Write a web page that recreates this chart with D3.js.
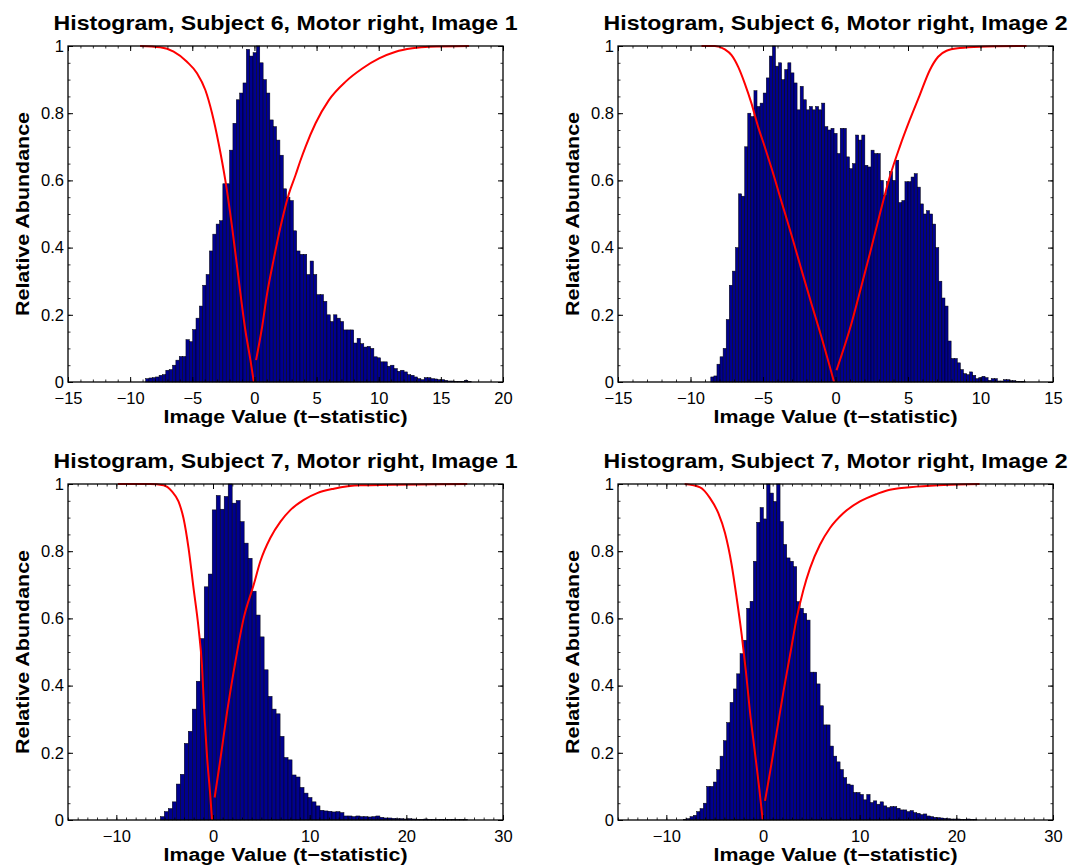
<!DOCTYPE html>
<html>
<head>
<meta charset="utf-8">
<script src="https://cdn.jsdelivr.net/npm/d3@7"></script>
<style>
  body { margin: 0; background: #fff; }
  text { font-family: "Liberation Sans", Arial, Helvetica, sans-serif; }
</style>
</head>
<body>
<svg id="chart" width="1074" height="865"></svg>
<script>
// titles of the four histograms
const titles = [
  "Histogram, Subject 6, Motor right, Image 1",
  "Histogram, Subject 6, Motor right, Image 2",
  "Histogram, Subject 7, Motor right, Image 1",
  "Histogram, Subject 7, Motor right, Image 2"
];
const xLabel = "Image Value (t\u2212statistic)";
const yLabel = "Relative Abundance";

const xDomains = [[-15, 20], [-15, 15], [-15, 30], [-15, 30]];
const xTicks = [
  [-15, -10, -5, 0, 5, 10, 15, 20],
  [-15, -10, -5, 0, 5, 10, 15],
  [-10, 0, 10, 20, 30],
  [-10, 0, 10, 20, 30]
];
const yTicks = [0, 0.2, 0.4, 0.6, 0.8, 1];

// left edge of first bin and bin width (t units)
const binStart = [-8.75, -8.6, -5.45, -8.24];
const binWidth = [0.27, 0.2125, 0.413, 0.345];

// relative abundance per bin
const s6img1 = [0.01,0.012,0.013,0.015,0.02,0.022,0.035,0.037,0.05,0.065,
  0.076,0.076,0.126,0.12,0.156,0.19,0.226,0.288,0.32,0.39,
  0.44,0.47,0.48,0.59,0.59,0.69,0.77,0.84,0.86,0.89,
  0.99,0.97,0.98,1.0,0.95,0.90,0.86,0.78,0.76,0.72,
  0.675,0.575,0.55,0.54,0.45,0.39,0.38,0.38,0.32,0.36,
  0.32,0.26,0.26,0.24,0.20,0.18,0.20,0.19,0.18,0.155,
  0.155,0.155,0.116,0.13,0.114,0.104,0.106,0.10,0.075,0.072,
  0.06,0.06,0.047,0.05,0.04,0.032,0.035,0.03,0.022,0.02,
  0.015,0.01,0.007,0.013,0.013,0.01,0.009,0.007,0.007,0.005,
  0.003,0.003,0.002,0.002,0.002,0.005,0.002];

const s6img2 = [0.015,0.018,0.053,0.075,0.10,0.186,0.288,0.33,0.40,0.56,
  0.553,0.70,0.80,0.79,0.867,0.82,0.83,0.86,0.905,0.97,
  1.0,0.94,0.95,0.90,0.93,0.95,0.92,0.89,0.81,0.88,
  0.84,0.81,0.82,0.81,0.82,0.81,0.83,0.76,0.75,0.755,
  0.74,0.68,0.755,0.755,0.67,0.635,0.65,0.735,0.72,0.735,
  0.645,0.64,0.69,0.68,0.68,0.60,0.556,0.596,0.626,0.60,
  0.66,0.534,0.54,0.596,0.596,0.61,0.62,0.58,0.53,0.50,
  0.51,0.50,0.47,0.40,0.30,0.25,0.226,0.122,0.07,0.07,
  0.057,0.037,0.025,0.022,0.03,0.02,0.01,0.013,0.017,0.013,
  0.005,0.01,0.01,0.003,0.003,0.007,0.007,0.004,0.004,0.002,
  0.002,0.002];

const s7img1 = [0.01,0.025,0.034,0.054,0.107,0.136,0.228,0.264,0.33,0.413,
  0.54,0.694,0.732,0.923,0.966,0.925,0.963,1.0,0.943,0.951,
  0.888,0.824,0.779,0.681,0.61,0.545,0.447,0.368,0.33,0.316,
  0.249,0.186,0.179,0.134,0.128,0.097,0.08,0.067,0.054,0.042,
  0.029,0.027,0.026,0.024,0.025,0.022,0.012,0.012,0.01,0.012,
  0.01,0.01,0.009,0.01,0.012,0.008,0.006,0.006,0.005,0.004,
  0.004,0.003,0.004,0.003,0.002,0.002,0.003,0.002,0.002,0.001,
  0.002,0.001,0.001,0.002,0.001,0.001,0.001];

const s7img2 = [0.002,0.004,0.01,0.014,0.025,0.034,0.05,0.10,0.10,0.113,
  0.15,0.19,0.236,0.29,0.35,0.39,0.435,0.495,0.535,0.63,
  0.651,0.77,0.886,0.93,0.896,1.0,0.973,0.948,1.0,0.888,
  0.82,0.78,0.77,0.754,0.65,0.63,0.615,0.595,0.44,0.44,
  0.405,0.34,0.283,0.283,0.22,0.19,0.173,0.15,0.126,0.107,
  0.104,0.082,0.082,0.076,0.06,0.076,0.052,0.057,0.047,0.054,
  0.042,0.037,0.04,0.04,0.035,0.03,0.03,0.025,0.028,0.022,
  0.02,0.016,0.018,0.012,0.01,0.008,0.007,0.006,0.005,0.004,
  0.003,0.003,0.003,0.002,0.002,0.003,0.002,0.002];

// cumulative curves [t, fraction]
const s6img1Neg = [[-9.2,1.0],[-7.58,0.996],[-6.5,0.983],[-5.43,0.953],[-4.62,0.919],[-3.95,0.869],
  [-3.41,0.80],[-2.88,0.71],[-2.34,0.60],[-1.8,0.462],[-1.26,0.303],[-0.73,0.154],[-0.32,0.065],[-0.05,0.0]];
const s6img1Pos = [[0.13,0.065],[0.6,0.16],[1.02,0.263],[1.55,0.365],[2.1,0.462],[2.77,0.56],[3.31,0.616],
  [3.71,0.66],[4.11,0.70],[4.92,0.77],[5.99,0.839],[7.34,0.894],[8.68,0.933],[10.03,0.963],[11.37,0.983],
  [12.7,0.993],[14.06,0.998],[17.26,1.0]];

const s6img2Neg = [[-9.24,1.0],[-8.32,1.0],[-7.63,0.99],[-7.17,0.973],[-6.71,0.938],[-6.26,0.889],[-5.8,0.83],
  [-5.34,0.76],[-4.88,0.70],[-4.41,0.636],[-3.72,0.536],[-3.03,0.437],[-2.34,0.333],[-1.66,0.233],[-0.97,0.134],[-0.1,0.0]];
const s6img2Pos = [[0.07,0.035],[1.1,0.174],[1.68,0.268],[2.37,0.382],[3.06,0.50],[3.74,0.61],[4.43,0.70],
  [5.12,0.78],[5.81,0.854],[6.5,0.928],[7.08,0.968],[7.66,0.986],[8.57,0.994],[9.95,0.998],[13.17,1.0]];

const s7img1Neg = [[-9.84,1.0],[-6.5,1.0],[-5.12,0.996],[-4.25,0.978],[-3.57,0.948],[-3.05,0.898],[-2.53,0.809],
  [-2.01,0.689],[-1.49,0.57],[-1.14,0.46],[-0.9,0.32],[-0.62,0.19],[-0.28,0.072],[-0.1,0.0]];
const s7img1Pos = [[0.17,0.067],[0.76,0.18],[1.45,0.32],[2.31,0.47],[3.17,0.60],[4.21,0.70],[4.9,0.77],
  [5.94,0.84],[6.98,0.888],[8.02,0.923],[9.39,0.953],[10.78,0.973],[12.5,0.986],[15.27,0.996],[26.3,1.0]];

const s7img2Neg = [[-8.1,1.0],[-6.51,0.99],[-5.48,0.958],[-4.62,0.913],[-3.93,0.854],[-3.24,0.759],[-2.72,0.66],
  [-2.2,0.55],[-1.76,0.44],[-1.34,0.32],[-0.83,0.20],[-0.38,0.092],[-0.03,0.0]];
const s7img2Pos = [[0.21,0.057],[0.72,0.141],[1.41,0.26],[2.1,0.38],[2.79,0.49],[3.48,0.60],[4.17,0.684],
  [4.86,0.749],[5.89,0.819],[6.93,0.869],[8.3,0.913],[10.03,0.948],[11.76,0.97],[13.13,0.983],[18.7,0.997],[22.4,1.0]];

const counts = [s6img1, s6img2, s7img1, s7img2];
const negCurves = [s6img1Neg, s6img2Neg, s7img1Neg, s7img2Neg];
const posCurves = [s6img1Pos, s6img2Pos, s7img1Pos, s7img2Pos];

// layout
const svg = d3.select("#chart");
const W = 435, H = 336;
const origins = [[68, 46], [618, 46], [68, 484], [618, 484]];
const fontFamily = "'Liberation Sans', Arial, Helvetica, sans-serif";

counts.forEach((bins, k) => {
  const [ox, oy] = origins[k];
  const g = svg.append("g").attr("transform", `translate(${ox},${oy})`);

  const x = d3.scaleLinear().domain(xDomains[k]).range([0, W]);
  const y = d3.scaleLinear().domain([0, 1]).range([H, 0]);
  const start = binStart[k], bw = binWidth[k];

  // bars
  g.append("g")
    .selectAll("rect")
    .data(bins)
    .enter().append("rect")
    .attr("x", (d, i) => x(start + i * bw))
    .attr("width", (d, i) => x(start + (i + 1) * bw) - x(start + i * bw))
    .attr("y", d => y(d))
    .attr("height", d => H - y(d))
    .attr("fill", "#00008f")
    .attr("stroke", "#000")
    .attr("stroke-width", 0.5);

  // red cumulative curves
  const line = d3.line().x(d => x(d[0])).y(d => y(d[1])).curve(d3.curveMonotoneX);
  [negCurves[k], posCurves[k]].forEach(c => {
    g.append("path")
      .datum(c)
      .attr("d", line)
      .attr("fill", "none")
      .attr("stroke", "#ff0000")
      .attr("stroke-width", 2);
  });

  // minor ticks, all four sides
  const xMinor = d3.range(Math.ceil(xDomains[k][0]), xDomains[k][1] + 0.001, 1);
  const yMinor = d3.range(0, 1.0001, 0.05);
  const minor = [
    [d3.axisBottom(x).tickValues(xMinor), `translate(0,${H})`],
    [d3.axisTop(x).tickValues(xMinor), null],
    [d3.axisLeft(y).tickValues(yMinor), null],
    [d3.axisRight(y).tickValues(yMinor), `translate(${W},0)`]
  ];
  minor.forEach(([ax, tr]) => {
    const a = g.append("g").call(ax.tickSize(-2.5).tickFormat(""));
    if (tr) a.attr("transform", tr);
    a.select(".domain").remove();
    a.selectAll("line").attr("stroke", "#000").attr("stroke-width", 0.8);
  });

  // major ticks + labels
  const xb = g.append("g")
    .attr("transform", `translate(0,${H})`)
    .call(d3.axisBottom(x).tickValues(xTicks[k]).tickSize(-5).tickPadding(10));
  const xt = g.append("g")
    .call(d3.axisTop(x).tickValues(xTicks[k]).tickSize(-5).tickFormat(""));
  const yl = g.append("g")
    .call(d3.axisLeft(y).tickValues(yTicks).tickSize(-5).tickPadding(4).tickFormat(d => String(d)));
  const yr = g.append("g")
    .attr("transform", `translate(${W},0)`)
    .call(d3.axisRight(y).tickValues(yTicks).tickSize(-5).tickFormat(""));
  [xb, xt, yl, yr].forEach(a => {
    a.select(".domain").remove();
    a.selectAll("line").attr("stroke", "#000").attr("stroke-width", 1);
    a.attr("font-size", 16.5).attr("font-family", fontFamily);
    a.selectAll("text").attr("fill", "#000");
  });

  // axes box
  g.append("rect")
    .attr("width", W).attr("height", H)
    .attr("fill", "none")
    .attr("stroke", "#000")
    .attr("stroke-width", 1.3);

  // title
  g.append("text")
    .attr("x", W / 2).attr("y", -16)
    .attr("text-anchor", "middle")
    .attr("font-size", 21).attr("font-weight", "bold")
    .attr("textLength", 464).attr("lengthAdjust", "spacingAndGlyphs")
    .text(titles[k]);

  // x label
  g.append("text")
    .attr("x", W / 2).attr("y", H + 41)
    .attr("text-anchor", "middle")
    .attr("font-size", 18).attr("font-weight", "bold")
    .attr("textLength", 244).attr("lengthAdjust", "spacingAndGlyphs")
    .text(xLabel);

  // y label
  g.append("text")
    .attr("transform", "rotate(-90)")
    .attr("x", -H / 2).attr("y", -39.5)
    .attr("text-anchor", "middle")
    .attr("font-size", 19).attr("font-weight", "bold")
    .attr("textLength", 204).attr("lengthAdjust", "spacingAndGlyphs")
    .text(yLabel);
});
</script>
</body>
</html>
